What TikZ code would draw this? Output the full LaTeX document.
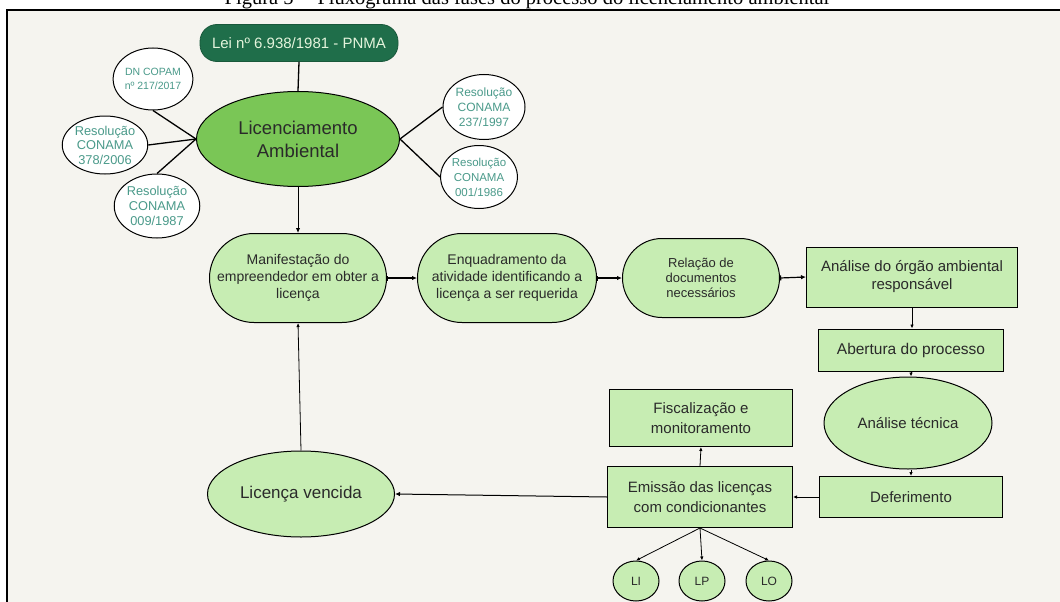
\documentclass[tikz,border=0pt]{standalone}
\usepackage{fontspec}
\setmainfont{Liberation Sans}
\newfontfamily\capfont{Liberation Serif}
\usetikzlibrary{arrows.meta,shapes.geometric,shapes.misc}
\definecolor{bg}{HTML}{F5F4EF}
\definecolor{lightg}{HTML}{C7EDB3}
\definecolor{midg}{HTML}{7AC656}
\definecolor{darkg}{HTML}{1F6E4A}
\definecolor{leitxt}{HTML}{E4F4DC}
\definecolor{tealtxt}{HTML}{4A9A8A}
\definecolor{txt}{HTML}{2A2A2A}
\newcommand{\fs}[2]{\fontsize{#1}{#2}\selectfont}
\tikzset{
  flow/.style={draw=black, line width=1pt, fill=lightg, text=txt, align=center, inner sep=0pt},
  stadium/.style={flow, rounded rectangle},
  box/.style={flow, rectangle},
  oval/.style={flow, ellipse},
  refc/.style={ellipse, draw=black, line width=1pt, fill=white, text=tealtxt, align=center, inner sep=0pt},
  link/.style={line width=1.3pt},
  arr/.style={line width=1pt, -{Latex[length=5pt,width=4.5pt]}},
  thinarr/.style={line width=0.8pt, -{Latex[length=4pt,width=3.5pt]}},
  barr/.style={line width=1.2pt, {Bar[width=5pt]}-{Latex[length=5pt,width=4.5pt]}}
}
\begin{document}
\begin{tikzpicture}[x=1pt,y=-1pt]
\useasboundingbox (0,0) rectangle (1060,602);
\clip (0,0) rectangle (1060,602);
\fill[white] (0,0) rectangle (1060,602);
\fill[bg] (7,10) rectangle (1070,612);
\draw[line width=2pt] (1070,10) -- (7,10) -- (7,612);
\node[font=\capfont\fs{20.5}{22}, anchor=base, inner sep=0pt] (cap) at (527,5) {Figura 5 -- Fluxograma das fases do processo do licenciamento ambiental};

% top
\node[rectangle, rounded corners=17pt, fill=darkg, draw=darkg!80!black, line width=0.8pt, text=leitxt, minimum width=198pt, minimum height=37pt, font=\fs{15}{17}] (lei) at (299,43) {Lei nº 6.938/1981 - PNMA};
\node[ellipse, fill=midg, draw=black, line width=1pt, text=txt, minimum width=203pt, minimum height=95pt, inner sep=0pt, align=center, font=\fs{18.5}{23}] (lic) at (298,139) {Licenciamento\\Ambiental};

% reference circles
\node[refc, minimum width=70pt, minimum height=62pt, font=\fs{10.5}{14}] (dn) at (153,79) {DN COPAM\\nº 217/2017};
\node[refc, minimum width=78pt, minimum height=58pt, font=\fs{12.8}{14.5}] (r378) at (105,145) {Resolução\\CONAMA\\378/2006};
\node[refc, minimum width=80pt, minimum height=64pt, font=\fs{12.8}{15}] (r009) at (157,206) {Resolução\\CONAMA\\009/1987};
\node[refc, minimum width=82pt, minimum height=65pt, font=\fs{12}{15}] (r237) at (484,107) {Resolução\\CONAMA\\237/1997};
\node[refc, minimum width=74pt, minimum height=63pt, font=\fs{11.5}{15}] (r001) at (479,177) {Resolução\\CONAMA\\001/1986};

\draw[link] (lei.south) -- (lic.north);
\draw[link] (dn.south) -- (lic.west);
\draw[link] (r378.east) -- (lic.west);
\draw[link] (r009.north) -- (lic.west);
\draw[link] (lic.east) -- (r237.west);
\draw[link] (lic.east) -- (r001.west);

% flow
\node[stadium, minimum width=177pt, minimum height=89pt, font=\fs{14}{16.7}] (man) at (298,278) {Manifestação do\\empreendedor em obter a\\licença};
\node[stadium, minimum width=179pt, minimum height=89pt, font=\fs{14}{16.7}] (enq) at (507,278) {Enquadramento da\\atividade identificando a\\licença a ser requerida};
\node[stadium, minimum width=157pt, minimum height=79pt, font=\fs{13}{15}] (rel) at (701,278) {Relação de\\documentos\\necessários};
\node[box, minimum width=211pt, minimum height=60pt, font=\fs{15}{18}] (ana) at (912,277) {Análise do órgão ambiental\\responsável};
\node[box, minimum width=185pt, minimum height=42pt, font=\fs{15.5}{18}] (abe) at (911,350) {Abertura do processo};
\node[oval, minimum width=168pt, minimum height=92pt, font=\fs{15}{18}] (tec) at (908,423) {Análise técnica};
\node[box, minimum width=183pt, minimum height=41pt, font=\fs{15}{18}] (def) at (911,497) {Deferimento};
\node[box, minimum width=185pt, minimum height=61pt, font=\fs{15}{20}] (emi) at (700,497) {Emissão das licenças\\com condicionantes};
\node[box, minimum width=183pt, minimum height=57pt, font=\fs{15}{20}] (fis) at (701,418) {Fiscalização e\\monitoramento};
\node[oval, minimum width=187pt, minimum height=86pt, font=\fs{17}{20}] (ven) at (301,494) {Licença vencida};
\node[oval, minimum width=46pt, minimum height=40pt, font=\fs{12}{14}] (li) at (636,581) {LI};
\node[oval, minimum width=46pt, minimum height=40pt, font=\fs{12}{14}] (lp) at (702,581) {LP};
\node[oval, minimum width=46pt, minimum height=40pt, font=\fs{12}{14}] (lo) at (769,581) {LO};

\draw[arr] (lic.south) -- (man.north);
\draw[barr] (man.east) -- (enq.west);
\draw[barr] (enq.east) -- (rel.west);
\draw[barr] (rel.east) -- (ana.west);
\draw[thinarr] (ana.south) -- (ana.south |- abe.north);
\draw[thinarr] (abe.south) -- (abe.south |- tec.north);
\draw[thinarr] (def.north |- tec.south) -- (def.north);
\draw[thinarr] (def.west) -- (emi.east);
\draw[thinarr] (emi.north) -- (fis.south);
\draw[arr] (emi.west) -- (ven.east);
\draw[thinarr] (ven.north) -- (man.south);
\draw[thinarr] (emi.south) -- (li.north);
\draw[thinarr] (emi.south) -- (lp.north);
\draw[thinarr] (emi.south) -- (lo.north);
\end{tikzpicture}
\end{document}
